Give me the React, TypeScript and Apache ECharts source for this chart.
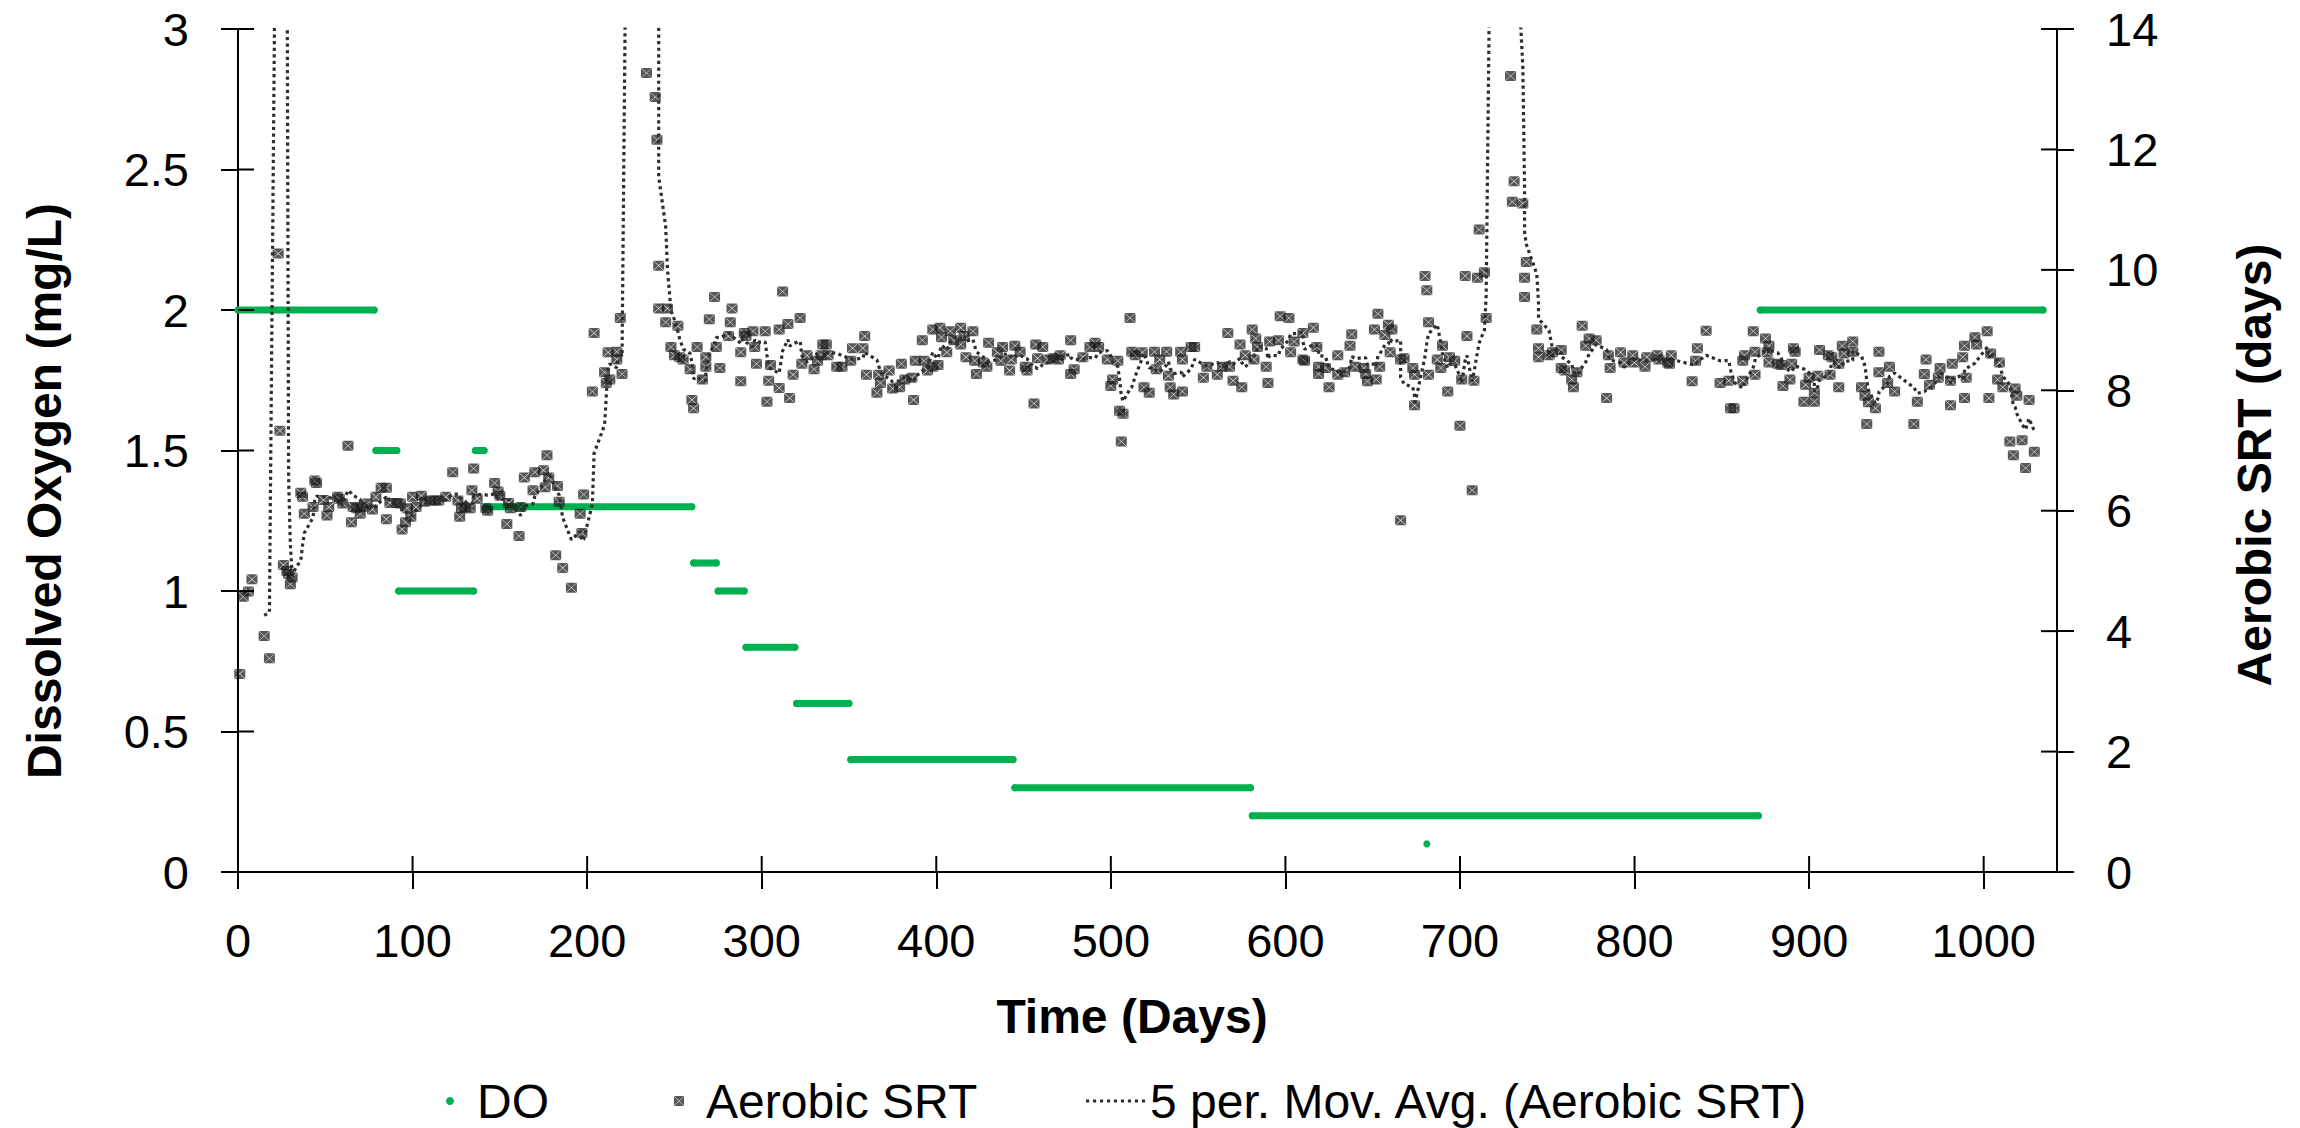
import React, { useEffect, useRef } from "react";
import * as echarts from "echarts";

// ---- Axis ticks ----
const xTicks = [0, 100, 200, 300, 400, 500, 600, 700, 800, 900, 1000];
const doTicks = [0, 0.5, 1, 1.5, 2, 2.5, 3];
const srtTicks = [0, 2, 4, 6, 8, 10, 12, 14];
const xMax = 1042;
const doMin = 0, doMax = 3, doStep = 0.5;
const srtMin = 0, srtMax = 14, srtStep = 2;

// ---- DO set-point segments: [startDay, endDay, DO mg/L] ----
const doSegments: [number, number, number][] = [
  [0, 78, 2.0],
  [79, 91, 1.5],
  [92, 135, 1.0],
  [136, 141, 1.5],
  [142, 260, 1.3],
  [261, 274, 1.1],
  [275, 290, 1.0],
  [291, 319, 0.8],
  [320, 350, 0.6],
  [351, 444, 0.4],
  [445, 580, 0.3],
  [581, 871, 0.2],
  [681, 681, 0.1],
  [872, 1034, 2.0],
];

// ---- Aerobic SRT observations: [day, SRT days] ----
const srtPart1: [number, number][] = [
  [1, 3.29], [3, 4.57], [6, 4.66], [8, 4.86], [15, 3.92], [18, 3.55], [21, 55], [23, 10.27], [24, 7.33],
  [26, 5.1], [28, 5.0], [29, 4.95], [30, 4.78], [31, 4.89], [36, 6.3], [37, 6.23], [38, 5.95], [43, 6.06],
  [44, 6.5], [45, 6.46], [49, 6.18], [51, 5.92], [52, 6.06], [57, 6.23], [58, 6.2], [60, 6.12], [63, 7.08],
  [65, 5.81], [66, 6.06], [68, 6.04], [70, 5.95], [71, 6.06], [74, 6.12], [77, 6.02], [79, 6.23], [82, 6.38],
  [85, 6.38], [85, 5.86], [87, 6.13], [91, 6.13], [93, 6.12], [94, 5.69], [96, 5.81], [97, 6.04], [99, 5.9],
  [100, 6.23], [102, 6.06], [105, 6.25], [107, 6.15], [110, 6.17], [113, 6.17], [115, 6.17], [119, 6.23],
  [123, 6.64], [126, 6.17], [127, 5.9], [128, 6.04], [130, 6.06], [133, 6.04], [134, 6.34], [135, 6.7],
  [137, 6.2], [142, 6.04], [143, 6.0], [147, 6.46], [149, 6.32], [150, 6.25], [154, 5.78], [155, 6.13],
  [156, 6.04], [161, 5.58], [162, 6.06], [164, 6.55], [169, 6.34], [170, 6.64], [175, 6.67], [176, 6.39],
  [177, 6.92], [178, 6.55], [182, 5.26], [183, 6.41], [184, 6.15], [186, 5.05], [191, 4.72], [196, 5.95],
  [197, 5.63], [198, 6.27], [203, 7.98], [204, 8.95],
];
const srtPart2: [number, number][] = [
  [210, 8.3], [211, 8.12], [212, 8.63], [213, 8.18], [217, 8.64], [217, 8.51], [219, 9.2], [220, 8.27],
  [222, 40], [225, 22], [234, 13.27], [239, 12.87], [240, 12.16], [241, 9.36], [241, 10.07], [245, 9.13],
  [246, 9.36], [248, 8.72], [250, 8.58], [252, 9.07], [253, 8.55], [255, 8.51], [259, 8.35], [260, 7.84],
  [261, 7.7], [263, 8.72], [266, 8.18], [268, 8.39], [268, 8.55], [270, 9.18], [273, 9.55], [274, 8.72],
  [276, 8.37], [281, 8.9], [282, 9.13], [283, 9.36], [288, 8.15], [288, 8.63], [290, 8.95], [291, 8.9],
  [295, 8.98], [296, 8.72], [297, 8.44], [302, 8.98], [303, 7.81], [304, 8.16], [305, 8.42], [310, 8.04],
  [310, 9.01], [312, 9.64], [315, 9.1], [316, 7.87], [318, 8.26], [322, 9.2], [323, 8.44], [326, 8.58],
  [330, 8.35], [332, 8.49], [334, 8.58], [335, 8.76], [337, 8.76], [338, 8.58], [343, 8.39], [346, 8.39],
  [351, 8.49], [352, 8.7], [358, 8.7], [359, 8.9], [360, 8.26], [366, 7.96], [367, 8.26], [368, 8.12],
  [373, 8.33], [375, 8.03], [379, 8.05], [380, 8.44], [382, 8.18], [386, 8.21], [387, 7.84], [388, 8.49],
  [392, 8.83], [393, 8.49], [395, 8.33], [398, 9.01], [398, 8.39], [401, 8.42], [402, 9.04], [403, 8.88],
  [406, 8.63], [408, 8.98],
];
const srtPart3: [number, number][] = [
  [410, 8.83], [414, 9.04], [414, 8.76], [416, 8.9], [417, 8.55], [421, 8.98], [422, 8.49], [423, 8.27],
  [427, 8.46], [429, 8.39], [430, 8.79], [435, 8.63], [437, 8.49], [438, 8.72], [442, 8.33], [443, 8.51],
  [445, 8.74], [448, 8.64], [451, 8.39], [452, 8.33], [456, 7.78], [457, 8.76], [458, 8.53], [461, 8.72],
  [464, 8.51], [467, 8.53], [470, 8.51], [471, 8.58], [477, 8.83], [477, 8.27], [479, 8.35], [484, 8.55],
  [488, 8.72], [491, 8.79], [493, 8.72], [498, 8.51], [500, 8.07], [501, 8.18], [504, 8.49], [505, 7.66],
  [506, 7.15], [507, 7.61], [511, 9.2], [512, 8.64], [514, 8.58], [518, 8.63], [519, 8.05], [522, 7.96],
  [525, 8.64], [526, 8.35], [528, 8.51], [532, 8.64], [533, 8.24], [534, 8.05], [536, 7.93], [540, 8.64],
  [541, 8.51], [541, 7.98], [546, 8.72], [548, 8.72], [553, 8.21], [555, 8.39], [561, 8.26], [564, 8.39],
  [567, 8.95], [568, 8.39], [570, 8.16], [574, 8.76], [575, 8.05], [577, 8.58], [581, 9.01], [582, 8.51],
  [583, 8.86], [584, 8.72], [589, 8.39], [590, 8.12], [591, 8.81], [596, 8.83], [597, 9.23], [602, 9.2],
  [603, 8.63], [605, 8.81], [610, 8.95], [610, 8.51],
];
const srtPart4: [number, number][] = [
  [611, 8.49], [616, 9.04], [618, 8.72], [619, 8.39], [619, 8.27], [623, 8.37], [625, 8.05], [630, 8.58],
  [630, 8.26], [634, 8.3], [637, 8.74], [638, 8.93], [640, 8.39], [645, 8.37], [646, 8.27], [647, 8.15],
  [651, 9.01], [652, 8.18], [653, 9.27], [654, 8.39], [657, 8.92], [659, 9.09], [660, 8.63], [661, 9.01],
  [666, 8.51], [666, 5.84], [668, 8.53], [673, 8.37], [674, 8.26], [674, 7.75], [680, 9.9], [681, 9.66],
  [682, 9.13], [682, 8.26], [687, 8.51], [689, 8.37], [690, 8.74], [693, 7.98], [694, 8.55], [697, 8.49],
  [700, 7.41], [701, 8.18], [703, 9.9], [704, 8.9], [707, 6.34], [708, 8.16], [710, 9.87], [711, 10.67],
  [714, 9.96], [715, 9.2], [717, 35], [720, 25], [723, 20], [729, 13.22], [730, 11.13], [731, 11.47],
  [736, 11.1], [737, 9.87], [737, 9.55], [738, 10.13], [744, 9.01], [745, 8.7], [745, 8.55], [751, 8.58],
  [753, 8.63], [758, 8.67], [758, 8.37], [760, 8.33], [764, 8.18], [765, 8.05], [767, 8.3], [770, 9.07],
  [772, 8.74], [774, 8.86], [778, 8.83], [784, 7.87], [785, 8.58], [786, 8.37], [792, 8.63], [794, 8.46],
  [799, 8.58], [800, 8.46], [806, 8.39], [807, 8.55], [813, 8.58],
];
const srtPart5: [number, number][] = [
  [814, 8.51], [819, 8.46], [820, 8.44], [821, 8.58], [833, 8.15], [835, 8.49], [836, 8.7], [841, 8.99],
  [849, 8.12], [854, 8.16], [855, 7.7], [857, 7.7], [862, 8.49], [862, 8.16], [863, 8.58], [868, 8.98],
  [869, 8.26], [869, 8.64], [875, 8.86], [876, 8.63], [877, 8.74], [877, 8.46], [882, 8.44], [884, 8.42],
  [885, 8.07], [889, 8.18], [890, 8.44], [891, 8.7], [892, 8.64], [897, 7.81], [898, 8.09], [900, 8.21],
  [903, 7.96], [903, 7.81], [905, 8.24], [906, 8.67], [911, 8.58], [912, 8.26], [913, 8.55], [917, 8.05],
  [917, 8.44], [919, 8.74], [920, 8.61], [925, 8.64], [925, 8.81], [930, 8.05], [932, 7.91], [933, 7.44],
  [934, 7.8], [938, 7.7], [940, 8.64], [940, 8.3], [945, 8.12], [946, 8.39], [949, 7.98], [960, 7.44],
  [962, 7.81], [966, 8.27], [967, 8.51], [969, 8.09], [974, 8.21], [975, 8.37], [981, 7.75], [981, 8.16],
  [982, 8.44], [988, 8.55], [989, 7.87], [989, 8.74], [990, 8.21], [995, 8.88], [996, 8.76], [1002, 8.98],
  [1003, 7.87], [1004, 8.61], [1008, 8.18], [1009, 8.46], [1011, 8.05], [1015, 7.15], [1017, 6.92],
  [1018, 8.03], [1019, 7.91], [1022, 7.17], [1024, 6.71], [1026, 7.84], [1029, 6.98],
];

const MA_PERIOD = 5;

const NAME_DO = "DO";
const NAME_SRT = "Aerobic SRT";
const NAME_MA = "5 per. Mov. Avg. (Aerobic SRT)";

const FONT = '"Liberation Sans", Arial, Helvetica, sans-serif';
const GREEN = "#00B050";
const MA_COLOR = "#2e2e2e";
// square marker with a thin light "X" (four triangles separated by narrow diagonal gaps)
const MARKER =
  "path://M0.3 0L9.7 0L5 4.7Z M10 0.3L10 9.7L5.3 5Z M9.7 10L0.3 10L5 5.3Z M0 9.7L0 0.3L4.7 5Z";
const DOTTED_ICON =
  "path://M0 0h3v3h-3z M6.6 0h3v3h-3z M13.2 0h3v3h-3z M19.8 0h3v3h-3z M26.4 0h3v3h-3z M33 0h3v3h-3z M39.6 0h3v3h-3z M46.2 0h3v3h-3z M52.8 0h3v3h-3z";

export default function App() {
  const ref = useRef<HTMLDivElement>(null);

  useEffect(() => {
    if (!ref.current) return;
    const chart = echarts.init(ref.current, null, { renderer: "svg" });

    const srt = [...srtPart1, ...srtPart2, ...srtPart3, ...srtPart4, ...srtPart5]
      .slice()
      .sort((a, b) => a[0] - b[0]);

    // Excel-style trailing moving average over consecutive observations
    const ma: [number, number][] = [];
    for (let i = MA_PERIOD - 1; i < srt.length; i++) {
      let s = 0;
      for (let k = i - MA_PERIOD + 1; k <= i; k++) s += srt[k][1];
      ma.push([srt[i][0], s / MA_PERIOD]);
    }

    const doLine: any[] = [];
    doSegments.forEach(([s, e, v]) => {
      doLine.push([s, v]);
      if (e !== s) doLine.push([e, v]);
      doLine.push([e, "-"]);
    });

    const tickStyle = { color: "#000", width: 2 };
    const labelStyle = { fontFamily: FONT, fontSize: 47, color: "#000" };
    const legendText = { fontFamily: FONT, fontSize: 48, color: "#000" };

    const titleStyle = (text: string) => ({
      text,
      fontFamily: FONT,
      fontWeight: "bold",
      fontSize: 48,
      fill: "#000",
      textAlign: "center",
      textVerticalAlign: "middle",
    });

    // inner half of Excel's "cross" tick marks, placed through the axes' own scales
    const innerTicks = (yIdx: number, data: number[][], dx: number, dy: number) => ({
      type: "custom",
      name: "__ticks" + yIdx + dx + dy,
      xAxisIndex: 0,
      yAxisIndex: yIdx,
      data,
      silent: true,
      clip: false,
      z: 10,
      renderItem: (_p: any, api: any) => {
        const p = api.coord([api.value(0), api.value(1)]);
        return {
          type: "line",
          shape: { x1: p[0], y1: p[1], x2: p[0] + dx, y2: p[1] + dy },
          style: { stroke: "#000", lineWidth: 2 },
        };
      },
    });

    const option: any = {
      animation: false,
      backgroundColor: "#fff",
      grid: { left: 238, right: 243, top: 29, bottom: 256, containLabel: false },
      xAxis: {
        type: "value",
        min: 0,
        max: xMax,
        splitLine: { show: false },
        axisLine: { show: true, onZero: false, lineStyle: tickStyle },
        axisTick: { show: true, length: 17, customValues: xTicks, lineStyle: tickStyle },
        axisLabel: {
          ...labelStyle,
          margin: 45,
          customValues: xTicks,
          formatter: (v: number) => String(v),
        },
      },
      yAxis: [
        {
          type: "value",
          position: "left",
          min: doMin,
          max: doMax,
          interval: doStep,
          splitLine: { show: false },
          axisLine: { show: true, lineStyle: tickStyle },
          axisTick: { show: true, length: 17, lineStyle: tickStyle },
          axisLabel: { ...labelStyle, margin: 49, formatter: (v: number) => String(v) },
        },
        {
          type: "value",
          position: "right",
          min: srtMin,
          max: srtMax,
          interval: srtStep,
          splitLine: { show: false },
          axisLine: { show: true, lineStyle: tickStyle },
          axisTick: { show: true, length: 17, lineStyle: tickStyle },
          axisLabel: { ...labelStyle, margin: 49, formatter: (v: number) => String(v) },
        },
      ],
      legend: [
        {
          left: 446,
          top: 1077,
          padding: 0,
          itemWidth: 44,
          itemHeight: 8,
          textStyle: legendText,
          data: [{ name: NAME_DO, icon: "circle" }],
        },
        {
          left: 674,
          top: 1077,
          padding: 0,
          itemWidth: 44,
          itemHeight: 10,
          textStyle: legendText,
          data: [{ name: NAME_SRT, icon: MARKER }],
        },
        {
          left: 1086,
          top: 1077,
          padding: 0,
          itemWidth: 59,
          itemHeight: 10,
          textStyle: legendText,
          data: [{ name: NAME_MA, icon: DOTTED_ICON }],
        },
      ],
      graphic: [
        { type: "text", x: 44, y: 491, rotation: Math.PI / 2, style: titleStyle("Dissolved Oxygen (mg/L)") },
        { type: "text", x: 2254, y: 465, rotation: Math.PI / 2, style: titleStyle("Aerobic SRT (days)") },
        { type: "text", x: 1132, y: 1016, style: titleStyle("Time (Days)") },
      ],
      series: [
        {
          name: NAME_DO,
          type: "line",
          xAxisIndex: 0,
          yAxisIndex: 0,
          data: doLine,
          connectNulls: false,
          showSymbol: true,
          symbol: "circle",
          symbolSize: 7,
          itemStyle: { color: GREEN },
          lineStyle: { color: GREEN, width: 7, cap: "round" },
          z: 2,
        },
        {
          name: NAME_SRT,
          type: "scatter",
          xAxisIndex: 0,
          yAxisIndex: 1,
          data: srt,
          symbol: MARKER,
          symbolSize: [11, 10],
          itemStyle: { color: "rgba(22,22,22,0.9)", borderWidth: 0 },
          clip: true,
          z: 3,
        },
        {
          name: NAME_MA,
          type: "line",
          xAxisIndex: 0,
          yAxisIndex: 1,
          data: ma,
          showSymbol: false,
          symbol: "none",
          clip: true,
          itemStyle: { color: MA_COLOR },
          lineStyle: { color: MA_COLOR, width: 3.2, type: [3.2, 3.4], cap: "butt" },
          z: 4,
        },
        innerTicks(0, xTicks.map((v) => [v, doMin]), 0, -16),
        innerTicks(0, doTicks.map((v) => [0, v]), 16, 0),
        innerTicks(1, srtTicks.map((v) => [xMax, v]), -16, 0),
      ],
    };

    chart.setOption(option);
    return () => chart.dispose();
  }, []);

  return (
    <div
      ref={ref}
      style={{ position: "fixed", left: 0, top: 0, width: 2300, height: 1128, background: "#fff" }}
    />
  );
}
